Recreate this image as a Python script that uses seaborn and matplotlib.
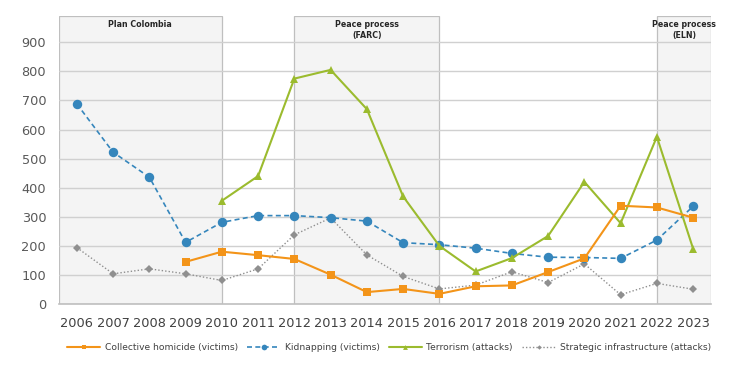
import numpy as np
import pandas as pd
import matplotlib.pyplot as plt
import seaborn as sns

years = list(range(2006, 2024))
homicide = [np.nan, np.nan, np.nan, 145, 180, 168, 155, 101, 41, 52, 35, 61, 64, 110, 157, 338, 332, 297]
kidnapping = [688, 522, 436, 212, 281, 304, 304, 297, 285, 211, 204, 192, 174, 161, 160, 157, 220, 336]
terrorism = [np.nan, np.nan, np.nan, np.nan, 355, 440, 775, 805, 670, 370, 200, 112, 158, 234, 420, 278, 575, 190]
infrastructure = [194, 104, 121, 104, 81, 121, 238, 296, 169, 95, 52, 65, 111, 74, 138, 32, 71, 51]

periods = [(2005.5, 2010, 'Plan Colombia'),
           (2012, 2016, 'Peace process\n(FARC)'),
           (2022, 2023.5, 'Peace process\n(ELN)')]

df = pd.DataFrame({'Year': years, 'homicide': homicide, 'kidnapping': kidnapping,
                   'terrorism': terrorism, 'infrastructure': infrastructure})

sns.set_theme(style='white')
fig = plt.figure(figsize=(7.34, 3.65), dpi=100)
ax = fig.add_axes([0.080, 0.167, 0.889, 0.789])

for x0, x1, label in periods:
    ax.axvspan(x0, x1, facecolor='#f4f4f4', edgecolor='#bfbfbf', linewidth=0.9, zorder=0)
    ax.text((x0 + x1) / 2, 0.985, label, transform=ax.get_xaxis_transform(), ha='center', va='top',
            fontsize=5.7, fontweight='bold', color='#262626', linespacing=1.25)

for yv in range(100, 1000, 100):
    ax.axhline(yv, color='#d0d0d0', linewidth=1.0, zorder=1)

sns.lineplot(data=df, x='Year', y='homicide', ax=ax, color='#F39419', marker='s', markersize=6,
             markeredgewidth=0, linewidth=1.5, label='Collective homicide (victims)', zorder=4)
sns.lineplot(data=df, x='Year', y='kidnapping', ax=ax, color='#3586BC', marker='o', markersize=6.8,
             markeredgewidth=0, linewidth=1.2, dashes=(3, 2), label='Kidnapping (victims)', zorder=3)
sns.lineplot(data=df, x='Year', y='terrorism', ax=ax, color='#9BBB2E', marker='^', markersize=5.8,
             markeredgewidth=0, linewidth=1.5, label='Terrorism (attacks)', zorder=3)
sns.lineplot(data=df, x='Year', y='infrastructure', ax=ax, color='#8f8f8f', marker='D', markersize=3.8,
             markeredgewidth=0, linewidth=1.0, dashes=(1, 1.5), label='Strategic infrastructure (attacks)', zorder=2)

ax.set_xlim(2005.5, 2023.5)
ax.set_ylim(0, 990)
ax.set_xticks(years)
ax.set_yticks(range(0, 1000, 100))
ax.set_xlabel('')
ax.set_ylabel('')
ax.tick_params(axis='x', labelsize=9.3, labelcolor='#404040', length=0, pad=9)
ax.tick_params(axis='y', labelsize=9.3, labelcolor='#595959', length=0, pad=9)
for s in ['left', 'right', 'top']:
    ax.spines[s].set_visible(False)
ax.spines['bottom'].set_color('#bfbfbf')
ax.spines['bottom'].set_linewidth(1.2)

handles, labels = ax.get_legend_handles_labels()
ax.get_legend().remove()
fig.legend(handles, labels, loc='center', bbox_to_anchor=(0.53, 0.047), ncol=4, frameon=False,
           fontsize=6.6, handlelength=3.6, columnspacing=1.0, handletextpad=0.5, markerscale=0.6,
           labelcolor='#404040')

plt.savefig('out.png', dpi=100)
plt.close()
